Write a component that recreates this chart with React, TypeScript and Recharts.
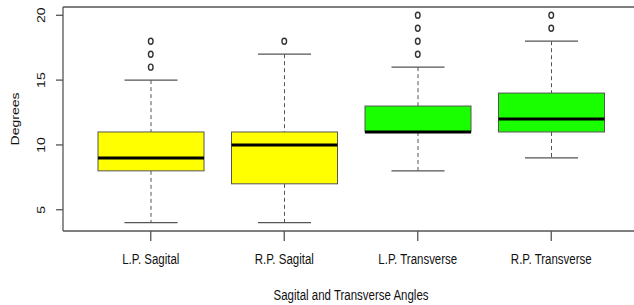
import React from 'react';
import { ComposedChart, Bar, Scatter, XAxis, YAxis, ReferenceLine } from 'recharts';

const categories = ['L.P. Sagital', 'R.P. Sagital', 'L.P. Transverse', 'R.P. Transverse'];
const whiskerLow = [4, 4, 8, 9];
const q1 = [8, 7, 11, 11];
const median = [9, 10, 11, 12];
const q3 = [11, 11, 13, 14];
const whiskerHigh = [15, 17, 16, 18];
const boxColors = ['#ffff00', '#ffff00', '#1aff00', '#1aff00'];

const outlierCategory = [
  'L.P. Sagital', 'L.P. Sagital', 'L.P. Sagital',
  'R.P. Sagital',
  'L.P. Transverse', 'L.P. Transverse', 'L.P. Transverse', 'L.P. Transverse',
  'R.P. Transverse', 'R.P. Transverse',
];
const outlierValue = [16, 17, 18, 18, 17, 18, 19, 20, 19, 20];

const yTicks = [5, 10, 15, 20];
const yDomain = [3.36, 20.64];

const data = categories.map((name, i) => ({
  name,
  range: [whiskerLow[i], whiskerHigh[i]],
  low: whiskerLow[i],
  q1: q1[i],
  med: median[i],
  q3: q3[i],
  high: whiskerHigh[i],
  fill: boxColors[i],
}));

const outliers = outlierCategory.map((name, i) => ({ name, value: outlierValue[i] }));

const FONT = '"Liberation Sans", Arial, Helvetica, sans-serif';
const SQUEEZE = 0.82;
const AXIS_COLOR = '#555';
const TEXT_COLOR = '#111';

const BoxShape = (props: any) => {
  const { x, y, width, height, payload } = props;
  if (!payload || height == null) return null;
  const top = Math.min(y, y + height);
  const h = Math.abs(height);
  const lo = payload.low;
  const hi = payload.high;
  const py = (v: number) => top + ((hi - v) / (hi - lo)) * h;
  const cx = x + width / 2;
  const half = width / 4;
  return (
    <g>
      <line x1={cx} x2={cx} y1={py(hi)} y2={py(payload.q3)} stroke="#555" strokeWidth={1} strokeDasharray="4 3" />
      <line x1={cx} x2={cx} y1={py(payload.q1)} y2={py(lo)} stroke="#555" strokeWidth={1} strokeDasharray="4 3" />
      <line x1={cx - half} x2={cx + half} y1={py(hi)} y2={py(hi)} stroke="#555" strokeWidth={1.2} />
      <line x1={cx - half} x2={cx + half} y1={py(lo)} y2={py(lo)} stroke="#555" strokeWidth={1.2} />
      <rect x={x} y={py(payload.q3)} width={width} height={py(payload.q1) - py(payload.q3)} fill={payload.fill} stroke="#555" strokeWidth={1} />
      <line x1={x} x2={x + width} y1={py(payload.med)} y2={py(payload.med)} stroke="#000" strokeWidth={3} />
    </g>
  );
};

const OutlierShape = (props: any) => {
  const { cx, cy } = props;
  if (cx == null || cy == null || isNaN(cx) || isNaN(cy)) return null;
  return <ellipse cx={cx} cy={cy} rx={2.3} ry={3} fill="none" stroke="#333" strokeWidth={1.4} />;
};

const YTick = (props: any) => {
  const { x, y, payload } = props;
  return (
    <text
      transform={`translate(${x - 13}, ${y}) scale(${SQUEEZE}, 1) rotate(-90)`}
      textAnchor="middle"
      dy="0.35em"
      fontSize={14}
      fontFamily={FONT}
      fill={TEXT_COLOR}
    >
      {payload.value}
    </text>
  );
};

const XTick = (props: any) => {
  const { x, y, payload } = props;
  return (
    <text
      transform={`translate(${x}, ${y + 21}) scale(${SQUEEZE}, 1)`}
      textAnchor="middle"
      fontSize={14}
      fontFamily={FONT}
      fill={TEXT_COLOR}
    >
      {payload.value}
    </text>
  );
};

const YTitle = (props: any) => {
  const vb = props.viewBox || { x: 0, y: 7, width: 63, height: 224 };
  return (
    <text
      transform={`translate(15, ${vb.y + vb.height / 2}) scale(${SQUEEZE}, 1) rotate(-90)`}
      textAnchor="middle"
      dy="0.35em"
      fontSize={14}
      fontFamily={FONT}
      fill={TEXT_COLOR}
    >
      Degrees
    </text>
  );
};

const XTitle = (props: any) => {
  const vb = props.viewBox || { x: 63, y: 231, width: 576, height: 74 };
  return (
    <text
      transform={`translate(${vb.x + vb.width / 2}, ${vb.y + 69}) scale(${SQUEEZE}, 1)`}
      textAnchor="middle"
      fontSize={14}
      fontFamily={FONT}
      fill={TEXT_COLOR}
    >
      Sagital and Transverse Angles
    </text>
  );
};

export default function App() {
  return (
    <div style={{ position: 'absolute', left: 0, top: 0, width: 634, height: 305, overflow: 'hidden', background: '#fff' }}>
      <ComposedChart width={660} height={305} data={data} margin={{ top: 7, right: 21, bottom: 0, left: 0 }}>
        <XAxis
          dataKey="name"
          type="category"
          allowDuplicatedCategory={false}
          padding={{ left: 21, right: 21 }}
          height={74}
          tickSize={10}
          tickMargin={2}
          tick={<XTick />}
          tickLine={{ stroke: AXIS_COLOR, strokeWidth: 1.3 }}
          axisLine={{ stroke: AXIS_COLOR, strokeWidth: 1.3 }}
          interval={0}
          label={{ content: (p: any) => <XTitle {...p} /> }}
        />
        <YAxis
          type="number"
          domain={yDomain}
          allowDataOverflow
          ticks={yTicks}
          width={63}
          tickSize={7}
          tickMargin={2}
          tick={<YTick />}
          tickLine={{ stroke: AXIS_COLOR, strokeWidth: 1.3 }}
          axisLine={{ stroke: AXIS_COLOR, strokeWidth: 1.3 }}
          label={{ content: (p: any) => <YTitle {...p} /> }}
        />
        <ReferenceLine y={yDomain[1]} stroke={AXIS_COLOR} strokeWidth={1.3} ifOverflow="visible" />
        <Bar dataKey="range" barSize={106} shape={<BoxShape />} isAnimationActive={false} />
        <Scatter data={outliers} dataKey="value" shape={<OutlierShape />} isAnimationActive={false} />
      </ComposedChart>
    </div>
  );
}
